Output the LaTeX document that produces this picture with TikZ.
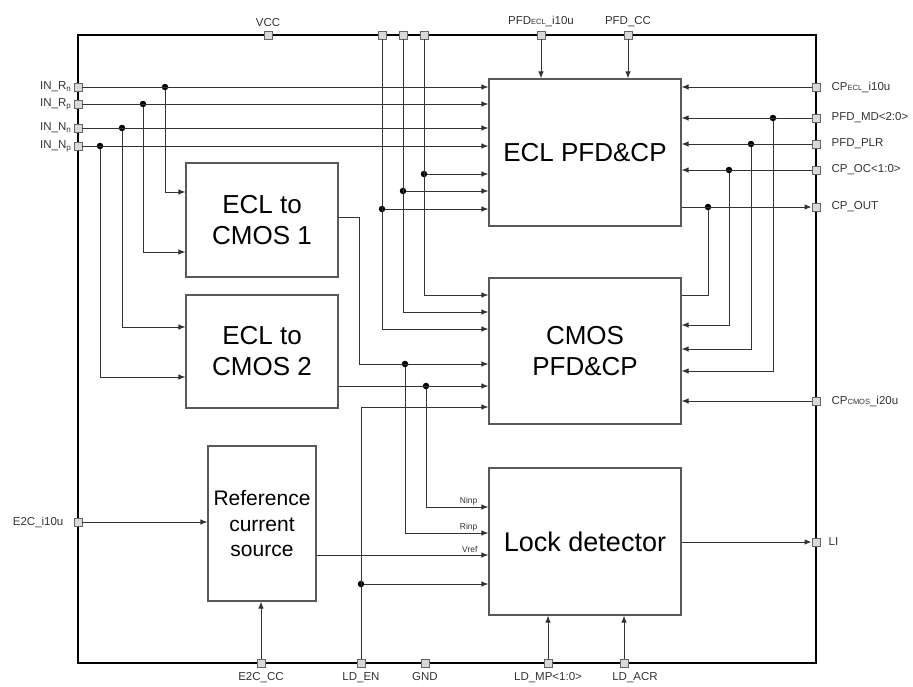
\documentclass[tikz,border=0pt]{standalone}
\usepackage{fontspec}
\setmainfont{Liberation Sans}
\usetikzlibrary{arrows.meta,calc}

\newcommand{\smc}[1]{{\fontsize{7.5}{9}\selectfont #1}}

\begin{document}
\begin{tikzpicture}[
  x=1pt, y=-1pt,
  font=\fontsize{11.5}{13}\selectfont,
  >={Latex[length=7pt,width=5.5pt]},
  blk/.style={draw=black!65, line width=1.1pt, align=center, inner sep=0pt},
  pad/.style={draw=black!60, fill=black!15, line width=0.8pt,
              minimum size=8pt, inner sep=0pt},
  plbl/.style={text=black!80, inner sep=1pt},
  wire/.style={draw=black!80, line width=1pt},
  ar/.style={wire, ->},
  dot/.style={circle, fill=black, inner sep=0pt, minimum size=6.5pt},
  sig/.style={font=\fontsize{8.5}{10}\selectfont, text=black!80,
              anchor=south east, inner sep=1.5pt, xshift=-9pt},
]
  \useasboundingbox (0,0) rectangle (913,686);

  % chip outline
  \draw[line width=2.8pt] (78,35) rectangle (816,663);

  % blocks
  \node[blk, minimum width=152pt, minimum height=114pt,
        font=\fontsize{26}{31}\selectfont] (e2c1) at (262,220) {ECL to\\CMOS 1};
  \node[blk, minimum width=152pt, minimum height=113pt,
        font=\fontsize{26}{31}\selectfont] (e2c2) at (262,351.5) {ECL to\\CMOS 2};
  \node[blk, minimum width=108pt, minimum height=155pt,
        font=\fontsize{21}{25.5}\selectfont] (ref) at (262,523.5)
        {Reference\\current\\source};
  \node[blk, minimum width=192pt, minimum height=147pt,
        font=\fontsize{26}{31}\selectfont] (ecl) at (585,152.5) {ECL PFD\&CP};
  \node[blk, minimum width=192pt, minimum height=146pt,
        font=\fontsize{26}{31}\selectfont] (cmos) at (585,351) {CMOS\\PFD\&CP};
  \node[blk, minimum width=192pt, minimum height=147pt,
        font=\fontsize{27}{31}\selectfont] (lock) at (585,541.5) {Lock detector};

  % pads, top
  \node[pad, label={[plbl, label distance=3pt]above:VCC}] (vcc) at (268,35) {};
  \node[pad] (ta) at (382,35) {};
  \node[pad] (tb) at (403,35) {};
  \node[pad] (tc) at (424,35) {};
  \node[pad, label={[plbl, label distance=3pt]above:PFD\smc{ECL}\_i10u}] (pfdi) at (541,35) {};
  \node[pad, label={[plbl, label distance=3pt]above:PFD\_CC}] (pfdcc) at (628,35) {};

  % pads, left
  \node[pad, label={[plbl, label distance=1pt]left:IN\_R\textsubscript{n}}] (inrn) at (78,87) {};
  \node[pad, label={[plbl, label distance=1pt]left:IN\_R\textsubscript{p}}] (inrp) at (78,104) {};
  \node[pad, label={[plbl, label distance=1pt]left:IN\_N\textsubscript{n}}] (innn) at (78,128) {};
  \node[pad, label={[plbl, label distance=1pt]left:IN\_N\textsubscript{p}}] (innp) at (78,146) {};
  \node[pad, label={[plbl, label distance=9pt]left:E2C\_i10u}] (e2ci) at (78,522) {};

  % pads, right
  \node[pad, label={[plbl, label distance=10pt]right:CP\smc{ECL}\_i10u}] (cpi) at (816,87) {};
  \node[pad, label={[plbl, label distance=10pt]right:PFD\_MD<2:0>}] (pfdmd) at (816,118) {};
  \node[pad, label={[plbl, label distance=10pt]right:PFD\_PLR}] (pfdplr) at (816,144) {};
  \node[pad, label={[plbl, label distance=10pt]right:CP\_OC<1:0>}] (cpoc) at (816,170) {};
  \node[pad, label={[plbl, label distance=10pt]right:CP\_OUT}] (cpout) at (816,207) {};
  \node[pad, label={[plbl, label distance=10pt]right:CP\smc{CMOS}\_i20u}] (cpcmos) at (816,401) {};
  \node[pad, label={[plbl, label distance=7pt]right:LI}] (li) at (816,542) {};

  % pads, bottom
  \node[pad, label={[plbl, label distance=4pt]below:E2C\_CC}] (e2ccc) at (261,663) {};
  \node[pad, label={[plbl, label distance=4pt]below:LD\_EN}] (lden) at (361,663) {};
  \node[pad, label={[plbl, label distance=4pt]below:GND}] (gnd) at (425,663) {};
  \node[pad, label={[plbl, label distance=4pt]below:LD\_MP<1:0>}] (ldmp) at (548,663) {};
  \node[pad, label={[plbl, label distance=4pt, xshift=11pt]below:LD\_ACR}] (ldacr) at (624,663) {};

  % junctions
  \node[dot] (jrn) at (165,87) {};
  \node[dot] (jrp) at (143,104) {};
  \node[dot] (jnn) at (122,128) {};
  \node[dot] (jnp) at (100,146) {};
  \node[dot] (jta) at (382,209) {};
  \node[dot] (jtb) at (403,191) {};
  \node[dot] (jtc) at (424,174) {};
  \node[dot] (jr) at (405,364) {};
  \node[dot] (jn) at (426,386) {};
  \node[dot] (jen) at (361,584) {};
  \node[dot] (jmd) at (773,118) {};
  \node[dot] (jplr) at (751,144) {};
  \node[dot] (joc) at (729,170) {};
  \node[dot] (jout) at (708,207) {};

  % differential inputs
  \draw[ar] (inrn) -- (inrn -| ecl.west);
  \draw[ar] (inrp) -- (inrp -| ecl.west);
  \draw[ar] (innn) -- (innn -| ecl.west);
  \draw[ar] (innp) -- (innp -| ecl.west);
  \draw[ar] (jrn) |- (e2c1.west |- 0,192);
  \draw[ar] (jrp) |- (e2c1.west |- 0,252);
  \draw[ar] (jnn) |- (e2c2.west |- 0,327);
  \draw[ar] (jnp) |- (e2c2.west |- 0,377);

  % unlabelled top pads
  \draw[ar] (ta) |- (cmos.west |- 0,329);
  \draw[ar] (tb) |- (cmos.west |- 0,312);
  \draw[ar] (tc) |- (cmos.west |- 0,295);
  \draw[ar] (jta) -- (ecl.west |- jta);
  \draw[ar] (jtb) -- (ecl.west |- jtb);
  \draw[ar] (jtc) -- (ecl.west |- jtc);
  \draw[ar] (pfdi) -- (pfdi |- ecl.north);
  \draw[ar] (pfdcc) -- (pfdcc |- ecl.north);

  % converter outputs
  \draw[ar] (e2c1.east |- 0,217) -| (359,364) -- (cmos.west |- 0,364);
  \draw[ar] (e2c2.east |- 0,386) -- (cmos.west |- 0,386);
  \draw[ar] (lden) |- (cmos.west |- 0,407);

  % lock detector inputs
  \draw[ar] (jn) |- (lock.west |- 0,507) node[sig] {Ninp};
  \draw[ar] (jr) |- (lock.west |- 0,533) node[sig] {Rinp};
  \draw[ar] (ref.east |- 0,555) -- (lock.west |- 0,555) node[sig] {Vref};
  \draw[ar] (jen) -- (lock.west |- jen);
  \draw[ar] (e2ci) -- (e2ci -| ref.west);
  \draw[ar] (e2ccc) -- (e2ccc |- ref.south);
  \draw[ar] (ldmp) -- (ldmp |- lock.south);
  \draw[ar] (ldacr) -- (ldacr |- lock.south);
  \draw[ar] (lock.east |- li) -- (li);

  % right side controls
  \draw[ar] (cpi) -- (cpi -| ecl.east);
  \draw[ar] (pfdmd) -- (pfdmd -| ecl.east);
  \draw[ar] (pfdplr) -- (pfdplr -| ecl.east);
  \draw[ar] (cpoc) -- (cpoc -| ecl.east);
  \draw[ar] (jmd) |- (cmos.east |- 0,371);
  \draw[ar] (jplr) |- (cmos.east |- 0,349);
  \draw[ar] (joc) |- (cmos.east |- 0,325);
  \draw[ar] (cpcmos) -- (cpcmos -| cmos.east);
  \draw[ar] (ecl.east |- cpout) -- (cpout);
  \draw[wire] (cmos.east |- 0,295) -| (jout);
\end{tikzpicture}
\end{document}
